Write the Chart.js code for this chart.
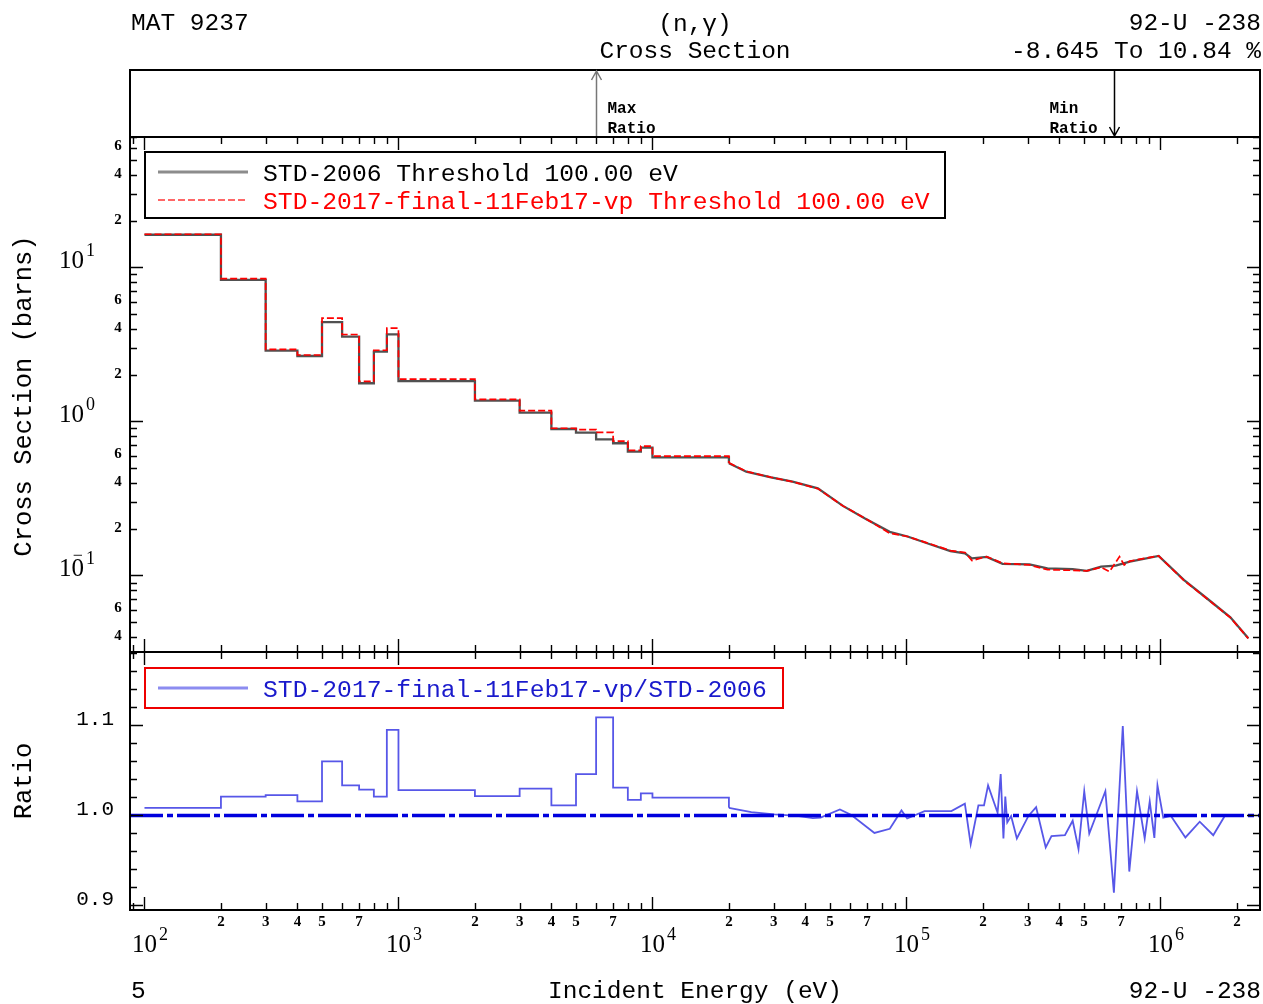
<!DOCTYPE html>
<html><head><meta charset="utf-8">
<script src="https://cdn.jsdelivr.net/npm/chart.js@4.4.1/dist/chart.umd.min.js"></script>
<style>
html,body{margin:0;padding:0;background:#fff;}
#wrap{position:relative;width:1263px;height:1004px;overflow:hidden;background:#fff;}
canvas{position:absolute;left:0;top:0;}
</style></head><body>
<div id="wrap">
<canvas id="cTop" width="1263" height="1004"></canvas>
<canvas id="cMain" width="1263" height="1004"></canvas>
<canvas id="cRatio" width="1263" height="1004"></canvas>
</div>
<script>
// ---------------- data ----------------
const histEnergy   = [100,200,300,400,500,600,700,800,900,1000,2000,3000,4000,5000,6000,7000,8000,9000,10000,20000];
const std2006Hist  = [16.3, 8.3, 2.88, 2.66, 4.41, 3.55, 1.77, 2.84, 3.68, 1.83, 1.365, 1.14, 0.893, 0.846, 0.766, 0.722, 0.637, 0.676, 0.585, 0.535];
const std2017Hist  = [16.43, 8.47, 2.94, 2.70, 4.68, 3.67, 1.82, 2.90, 4.03, 1.88, 1.39, 1.175, 0.903, 0.885, 0.849, 0.745, 0.648, 0.692, 0.596, 0.539];
const ratioHist    = [1.0079, 1.0204, 1.0221, 1.015, 1.0596, 1.0329, 1.0282, 1.0204, 1.0946, 1.0275, 1.021, 1.0293, 1.0107, 1.0454, 1.1084, 1.0304, 1.0168, 1.0239, 1.0193, 1.0079];

const std2006Energy = [2.0e4, 2.34e4, 2.93e4, 3.56e4, 4.48e4, 5.62e4, 6.84e4, 8.59e4, 1.01e5, 1.23e5, 1.49e5, 1.70e5, 1.81e5, 2.07e5, 2.39e5, 3.05e5, 3.59e5, 4.51e5, 5.13e5, 5.84e5, 6.66e5, 7.58e5, 9.84e5, 1.236e6, 1.552e6, 1.885e6, 2.218e6];
const std2006Cont   = [0.535, 0.472, 0.434, 0.407, 0.368, 0.283, 0.235, 0.192, 0.179, 0.160, 0.144, 0.139, 0.129, 0.132, 0.119, 0.118, 0.111, 0.110, 0.107, 0.114, 0.116, 0.123, 0.134, 0.0935, 0.0693, 0.0535, 0.0391];
const std2017Energy = [2.0e4, 2.34e4, 2.93e4, 3.56e4, 4.48e4, 5.62e4, 6.84e4, 8.59e4, 1.01e5, 1.23e5, 1.49e5, 1.70e5, 1.81e5, 2.07e5, 2.39e5, 3.05e5, 3.59e5, 4.51e5, 5.13e5, 5.84e5, 6.3e5, 6.9e5, 7.2e5, 7.58e5, 9.84e5, 1.236e6, 1.552e6, 1.885e6, 2.218e6];
const std2017Cont   = [0.539, 0.474, 0.434, 0.406, 0.366, 0.283, 0.236, 0.188, 0.179, 0.161, 0.145, 0.141, 0.125, 0.1325, 0.120, 0.117, 0.109, 0.108, 0.107, 0.113, 0.106, 0.1325, 0.117, 0.124, 0.134, 0.093, 0.069, 0.0532, 0.039];

const ratioEnergy = [2.0e4, 2.45e4, 3.02e4, 3.72e4, 4.28e4, 4.59e4, 5.47e4, 6.07e4, 7.48e4, 8.6e4, 9.56e4, 1.007e5, 1.178e5, 1.503e5, 1.698e5, 1.79e5, 1.92e5, 2.02e5, 2.096e5, 2.285e5, 2.35e5, 2.409e5, 2.45e5, 2.494e5, 2.583e5, 2.721e5, 3.022e5, 3.24e5, 3.535e5, 3.724e5, 4.207e5, 4.513e5, 4.758e5, 5.012e5, 5.246e5, 6.07e5, 6.558e5, 7.108e5, 7.54e5, 8.086e5, 8.67e5, 9.075e5, 9.464e5, 9.734e5, 1.026e6, 1.10e6, 1.254e6, 1.428e6, 1.614e6, 1.791e6];
const ratioCont   = [1.0079, 1.0032, 1.0007, 0.9989, 0.9964, 0.9971, 1.0061, 1.0, 0.98, 0.9846, 1.005, 0.9961, 1.0043, 1.0043, 1.0125, 0.9675, 1.0107, 1.0107, 1.0329, 1.0025, 1.0454, 0.9739, 1.0204, 0.9918, 0.9989, 0.9739, 0.9989, 1.0086, 0.9639, 0.9764, 0.9775, 0.9936, 0.9621, 1.0264, 0.9793, 1.0264, 0.91355, 1.0989, 0.9371, 1.0264, 0.9739, 1.015, 0.9746, 1.0329, 0.9971, 0.9989, 0.975, 0.9925, 0.9775, 0.9989];
const unityRatio = 1.0;

// tick labels
const xMajorTicks   = [1e2, 1e3, 1e4, 1e5, 1e6];
const xMinorMults   = [2,3,4,5,6,7,8,9];
const xMinorLabeled = [2,3,4,5,7];
const yMajorTicks   = [0.1, 1, 10];
const yMinorLabeled = [2,4,6];
const ratioMajorTicks  = [0.9, 1.0, 1.1];
const ratioMajorLabels = ['0.9', '1.0', '1.1'];

// texts
const headerLeft = 'MAT 9237', headerReaction = '(n,\u03b3)', headerQuantity = 'Cross Section';
const headerRight = '92-U -238', headerRange = '-8.645 To 10.84 %';
const footerLeft = '5', xTitle = 'Incident Energy (eV)', footerRight = '92-U -238';
const yTitleMain = 'Cross Section (barns)', yTitleRatio = 'Ratio';
const label2006 = 'STD-2006 Threshold 100.00 eV';
const label2017 = 'STD-2017-final-11Feb17-vp Threshold 100.00 eV';
const labelRatio = 'STD-2017-final-11Feb17-vp/STD-2006';

// ---------------- layout ----------------
const X_MIN = 87.7, X_MAX = 2.466e6;
const CS_MIN = 0.03184, CS_MAX = 70.3;
const R_MIN = 0.8944, R_MAX = 1.1811;
const W = 1263, H = 1004;
const LEFT = 130, RIGHT = 1260;
const TOP_P = 70, MAIN_T = 137, MAIN_B = 652, RAT_B = 910;

const MONO = '"Liberation Mono", "DejaVu Sans Mono", monospace';
const SERIF = '"Liberation Serif", "DejaVu Serif", serif';

const pts = (xs, ys) => xs.map((x, i) => ({x, y: ys[i]}));

function minorList(d0, d1, mults, lo, hi) {
  const out = [];
  for (let d = d0; d <= d1; d++) for (const m of mults) {
    const v = m * Math.pow(10, d);
    if (v > lo * 1.0001 && v < hi / 1.0001) out.push(v);
  }
  return out;
}

function baseOptions(pad, yCfg) {
  return {
    responsive: false, animation: false, devicePixelRatio: 1, events: [],
    layout: { padding: pad },
    plugins: { legend: { display: false }, tooltip: { enabled: false }, title: { display: false } },
    elements: { point: { radius: 0 }, line: { tension: 0 } },
    scales: {
      x: { type: 'logarithmic', min: X_MIN, max: X_MAX, bounds: 'data', display: false },
      y: yCfg
    }
  };
}

function drawXTicks(ctx, chart, yEdge, dir) {
  const xs = chart.scales.x;
  ctx.save(); ctx.strokeStyle = '#000'; ctx.lineWidth = 1.4;
  const minors = minorList(1, 6, xMinorMults, X_MIN, X_MAX);
  ctx.beginPath();
  for (const v of minors) { const p = Math.round(xs.getPixelForValue(v)) + 0.5; ctx.moveTo(p, yEdge); ctx.lineTo(p, yEdge + dir * 7); }
  for (const v of xMajorTicks) { const p = Math.round(xs.getPixelForValue(v)) + 0.5; ctx.moveTo(p, yEdge); ctx.lineTo(p, yEdge + dir * 13); }
  ctx.stroke(); ctx.restore();
}

function drawYTicks(ctx, chart, minors, majors) {
  const ys = chart.scales.y, a = chart.chartArea;
  ctx.save(); ctx.strokeStyle = '#000'; ctx.lineWidth = 1.4; ctx.beginPath();
  for (const v of minors) { const p = Math.round(ys.getPixelForValue(v)) + 0.5;
    ctx.moveTo(a.left, p); ctx.lineTo(a.left + 7, p); ctx.moveTo(a.right, p); ctx.lineTo(a.right - 7, p); }
  for (const v of majors) { const p = Math.round(ys.getPixelForValue(v)) + 0.5;
    ctx.moveTo(a.left, p); ctx.lineTo(a.left + 13, p); ctx.moveTo(a.right, p); ctx.lineTo(a.right - 13, p); }
  ctx.stroke(); ctx.restore();
}

function frame(ctx, a) {
  ctx.save(); ctx.strokeStyle = '#000'; ctx.lineWidth = 2;
  ctx.strokeRect(a.left, a.top, a.right - a.left, a.bottom - a.top); ctx.restore();
}

function pow10(ctx, exp, anchorX, baseY, align, big, small) {
  ctx.save(); ctx.fillStyle = '#000'; ctx.textBaseline = 'alphabetic'; ctx.textAlign = 'left';
  ctx.font = big + 'px ' + SERIF;
  const w = ctx.measureText('10').width;
  const x0 = align === 'center' ? anchorX - w / 2 : anchorX - w;
  ctx.fillText('10', x0, baseY);
  ctx.font = small + 'px ' + SERIF;
  ctx.fillText(String(Math.abs(exp)), x0 + w + 2, baseY - big * 0.5);
  if (exp < 0) { ctx.textAlign = 'center'; ctx.fillText('\u2212', x0 + w * 0.75, baseY - big * 0.62); }
  ctx.restore();
}

function legendSample(ctx, ds, x0, x1, y) {
  ctx.save(); ctx.strokeStyle = ds.legendColor || ds.borderColor; ctx.lineWidth = ds.legendWidth || ds.borderWidth;
  ctx.setLineDash(ds.borderDash || []); ctx.beginPath(); ctx.moveTo(x0, y); ctx.lineTo(x1, y); ctx.stroke(); ctx.restore();
}

// ---------------- top panel (header + max/min arrows) ----------------
const topPlugin = {
  id: 'topPanel',
  afterDraw(chart) {
    const ctx = chart.ctx, a = chart.chartArea, xs = chart.scales.x;
    ctx.save();
    ctx.fillStyle = '#000'; ctx.font = '24.5px ' + MONO; ctx.textBaseline = 'alphabetic';
    ctx.textAlign = 'left'; ctx.fillText(headerLeft, 131, 30);
    ctx.textAlign = 'center'; ctx.fillText(headerReaction, 695, 31); ctx.fillText(headerQuantity, 695, 58);
    ctx.textAlign = 'right'; ctx.fillText(headerRight, 1261, 30); ctx.fillText(headerRange, 1261, 58);
    ctx.restore();
    frame(ctx, a);
    let maxI = 0; ratioHist.forEach((r, i) => { if (r > ratioHist[maxI]) maxI = i; });
    let minI = 0; ratioCont.forEach((r, i) => { if (r < ratioCont[minI]) minI = i; });
    const xMax = Math.round(xs.getPixelForValue(histEnergy[maxI])) + 0.5;
    const xMin = Math.round(xs.getPixelForValue(ratioEnergy[minI])) + 0.5;
    ctx.save();
    ctx.lineWidth = 1.5; ctx.strokeStyle = '#777';
    ctx.beginPath(); ctx.moveTo(xMax, a.bottom); ctx.lineTo(xMax, a.top + 1);
    ctx.moveTo(xMax - 5, a.top + 10); ctx.lineTo(xMax, a.top + 1); ctx.lineTo(xMax + 5, a.top + 10); ctx.stroke();
    ctx.strokeStyle = '#000';
    ctx.beginPath(); ctx.moveTo(xMin, a.top); ctx.lineTo(xMin, a.bottom - 1);
    ctx.moveTo(xMin - 5, a.bottom - 10); ctx.lineTo(xMin, a.bottom - 1); ctx.lineTo(xMin + 5, a.bottom - 10); ctx.stroke();
    ctx.fillStyle = '#000'; ctx.font = 'bold 16px ' + MONO; ctx.textAlign = 'left';
    ctx.fillText('Max', xMax + 11, 113); ctx.fillText('Ratio', xMax + 11, 133);
    ctx.fillText('Min', xMin - 65, 113); ctx.fillText('Ratio', xMin - 65, 133);
    ctx.restore();
  }
};
new Chart(document.getElementById('cTop'), {
  type: 'line', data: { datasets: [] },
  options: baseOptions({ left: LEFT, right: W - RIGHT, top: TOP_P, bottom: H - MAIN_T },
    { type: 'linear', min: 0, max: 1, display: false }),
  plugins: [topPlugin]
});

// ---------------- main cross-section panel ----------------
const mainPlugin = {
  id: 'mainPanel',
  afterDraw(chart) {
    const ctx = chart.ctx, a = chart.chartArea, ys = chart.scales.y;
    frame(ctx, a);
    drawXTicks(ctx, chart, a.top, 1);
    drawXTicks(ctx, chart, a.bottom, -1);
    const yMinors = minorList(-2, 1, xMinorMults, CS_MIN, CS_MAX);
    drawYTicks(ctx, chart, yMinors, yMajorTicks);
    yMajorTicks.forEach(v => { const p = ys.getPixelForValue(v); pow10(ctx, Math.round(Math.log10(v)), 84, p + 1, 'right', 25, 18); });
    ctx.save(); ctx.fillStyle = '#000'; ctx.font = 'bold 15px ' + SERIF; ctx.textAlign = 'center'; ctx.textBaseline = 'middle';
    for (let d = -2; d <= 1; d++) for (const m of yMinorLabeled) {
      const v = m * Math.pow(10, d); if (v <= CS_MIN || v >= CS_MAX) continue;
      ctx.fillText(String(m), 118, ys.getPixelForValue(v) - 1);
    }
    ctx.restore();
    ctx.save(); ctx.translate(24, 396); ctx.rotate(-Math.PI / 2); ctx.fillStyle = '#000';
    ctx.font = '25.5px ' + MONO; ctx.textAlign = 'center'; ctx.textBaseline = 'middle'; ctx.fillText(yTitleMain, 0, 0); ctx.restore();
    const dsets = chart.data.datasets;
    const l1 = dsets.find(d => d.label === label2006), l2 = dsets.find(d => d.label === label2017);
    ctx.save(); ctx.fillStyle = '#fff'; ctx.fillRect(145, 152, 800, 66);
    ctx.strokeStyle = '#000'; ctx.lineWidth = 2; ctx.strokeRect(145, 152, 800, 66); ctx.restore();
    legendSample(ctx, l1, 158, 248, 172);
    legendSample(ctx, l2, 158, 248, 200);
    ctx.save(); ctx.font = '24.7px ' + MONO; ctx.textAlign = 'left'; ctx.textBaseline = 'alphabetic';
    ctx.fillStyle = '#000'; ctx.fillText(l1.label, 263, 181);
    ctx.fillStyle = '#f00'; ctx.fillText(l2.label, 263, 209); ctx.restore();
  }
};
const red = { borderColor: '#ff0000', borderWidth: 1.7, borderDash: [7, 3], legendColor: '#ff6666', legendWidth: 2 };
const blk = { borderColor: 'rgba(50,50,50,0.85)', borderWidth: 2.3, legendColor: '#8c8c8c', legendWidth: 3 };
new Chart(document.getElementById('cMain'), {
  type: 'line',
  data: { datasets: [
    Object.assign({ label: label2017, data: pts(histEnergy, std2017Hist), stepped: true }, red),
    Object.assign({ label: label2017 + ' ', data: pts(std2017Energy, std2017Cont) }, red),
    Object.assign({ label: label2006, data: pts(histEnergy, std2006Hist), stepped: true }, blk),
    Object.assign({ label: label2006 + ' ', data: pts(std2006Energy, std2006Cont) }, blk)
  ] },
  options: baseOptions({ left: LEFT, right: W - RIGHT, top: MAIN_T, bottom: H - MAIN_B },
    { type: 'logarithmic', min: CS_MIN, max: CS_MAX, bounds: 'data', display: false }),
  plugins: [mainPlugin]
});

// ---------------- ratio panel ----------------
const ratioPlugin = {
  id: 'ratioPanel',
  afterDatasetsDraw(chart) {
    const ctx = chart.ctx, a = chart.chartArea, ys = chart.scales.y;
    const p = Math.round(ys.getPixelForValue(unityRatio)) + 0.5;
    ctx.save(); ctx.strokeStyle = '#0000dd'; ctx.lineWidth = 3.5; ctx.setLineDash([33, 4, 6, 4]);
    ctx.beginPath(); ctx.moveTo(a.left, p); ctx.lineTo(a.right, p); ctx.stroke(); ctx.restore();
  },
  afterDraw(chart) {
    const ctx = chart.ctx, a = chart.chartArea, ys = chart.scales.y, xs = chart.scales.x;
    frame(ctx, a);
    drawXTicks(ctx, chart, a.top, 1);
    drawXTicks(ctx, chart, a.bottom, -1);
    const rMinors = [];
    for (let k = 0; k < 20; k++) { const v = +(0.9 + k * 0.02).toFixed(2); if (v > R_MIN && v < R_MAX && !ratioMajorTicks.some(m => Math.abs(m - v) < 1e-6)) rMinors.push(v); }
    drawYTicks(ctx, chart, rMinors, ratioMajorTicks);
    ctx.save(); ctx.fillStyle = '#000'; ctx.font = '21px ' + MONO; ctx.textAlign = 'right'; ctx.textBaseline = 'middle';
    ratioMajorTicks.forEach((v, i) => ctx.fillText(ratioMajorLabels[i], 114, ys.getPixelForValue(v) - 6));
    ctx.restore();
    ctx.save(); ctx.fillStyle = '#000'; ctx.font = 'bold 15px ' + SERIF; ctx.textAlign = 'center'; ctx.textBaseline = 'middle';
    for (let d = 1; d <= 6; d++) for (const m of xMinorLabeled) {
      const v = m * Math.pow(10, d); if (v <= X_MIN || v >= X_MAX) continue;
      ctx.fillText(String(m), xs.getPixelForValue(v), 922);
    }
    ctx.restore();
    xMajorTicks.forEach(v => pow10(ctx, Math.round(Math.log10(v)), xs.getPixelForValue(v), 952, 'center', 25, 18));
    ctx.save(); ctx.fillStyle = '#000'; ctx.font = '24.5px ' + MONO; ctx.textBaseline = 'alphabetic';
    ctx.textAlign = 'left'; ctx.fillText(footerLeft, 131, 998);
    ctx.textAlign = 'center'; ctx.fillText(xTitle, 695, 998);
    ctx.textAlign = 'right'; ctx.fillText(footerRight, 1261, 998);
    ctx.restore();
    ctx.save(); ctx.translate(24, 781); ctx.rotate(-Math.PI / 2); ctx.fillStyle = '#000';
    ctx.font = '25.5px ' + MONO; ctx.textAlign = 'center'; ctx.textBaseline = 'middle'; ctx.fillText(yTitleRatio, 0, 0); ctx.restore();
    const ds = chart.data.datasets[0];
    ctx.save(); ctx.fillStyle = '#fff'; ctx.fillRect(145, 668, 638, 40);
    ctx.strokeStyle = '#ee0000'; ctx.lineWidth = 2; ctx.strokeRect(145, 668, 638, 40); ctx.restore();
    legendSample(ctx, ds, 158, 248, 688);
    ctx.save(); ctx.font = '24.7px ' + MONO; ctx.fillStyle = '#1a1acc'; ctx.textAlign = 'left'; ctx.textBaseline = 'alphabetic';
    ctx.fillText(ds.label, 263, 697); ctx.restore();
  }
};
const blu = { borderColor: 'rgba(40,40,225,0.78)', borderWidth: 1.8, legendColor: '#8c8cf0', legendWidth: 3 };
new Chart(document.getElementById('cRatio'), {
  type: 'line',
  data: { datasets: [
    Object.assign({ label: labelRatio, data: pts(histEnergy, ratioHist), stepped: true }, blu),
    Object.assign({ label: labelRatio + ' ', data: pts(ratioEnergy, ratioCont) }, blu)
  ] },
  options: baseOptions({ left: LEFT, right: W - RIGHT, top: MAIN_B, bottom: H - RAT_B },
    { type: 'linear', min: R_MIN, max: R_MAX, bounds: 'data', display: false }),
  plugins: [ratioPlugin]
});
</script>
</body></html>
